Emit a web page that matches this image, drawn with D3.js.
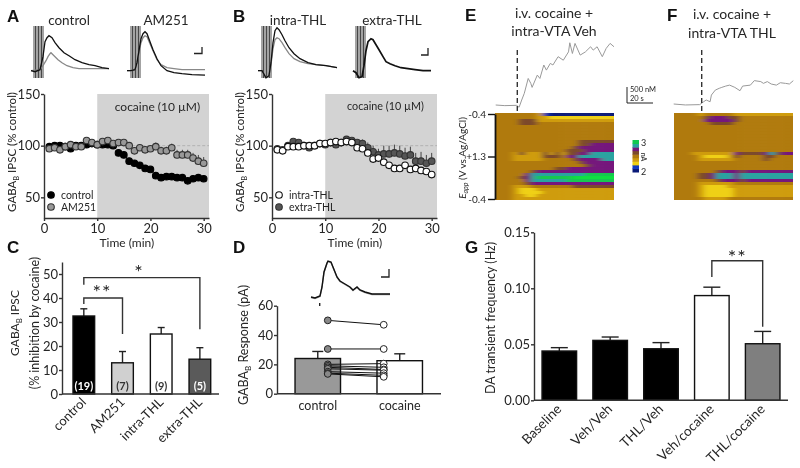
<!DOCTYPE html>
<html>

<head>
    <title>figure</title>
    <script src="https://d3js.org/d3.v7.min.js"></script>
    <style>
        body { margin: 0; background: #fff; }
        svg { filter: blur(0.3px); }
        text { font-family: Lato, "Open Sans", sans-serif; fill: #262626; }
        .letter { font-family: "Liberation Sans", sans-serif; font-weight: bold; font-size: 17px; fill: #111; }
        .axis path, .axis line { stroke: #333; stroke-width: 1.4px; }
    </style>
</head>

<body>
    <div id="chart"></div>
    <script>
        // time course panels A and B (minutes, % control)
        const minutes = d3.range(1, 31);
        const timeTicks = [0, 10, 20, 30];
        const pctTicks = [50, 100, 150];
        const controlVals = [99, 100, 100, 99, 97, 100, 100, 101, 102, 101, 101, 101, 100, 93, 91, 85, 83, 81, 78, 77, 71, 69, 70, 70, 69, 69, 66, 68, 69, 68];
        const controlErr = [2, 2, 2, 2, 2, 2, 2, 2, 2, 2, 2, 2, 2, 2, 2, 2, 2, 2, 2, 2, 2, 2, 2, 2, 2, 2, 2, 2, 2, 2];
        const am251Vals = [97, 98, 96, 99, 101, 99, 99, 105, 103, 101, 104, 105, 102, 103, 103, 100, 95, 98, 96, 97, 99, 95, 95, 98, 91, 91, 91, 88, 85, 83];
        const am251Err = [2, 2, 2, 2, 2, 2, 2, 2, 2, 2, 2, 2, 2, 2, 2, 3, 3, 3, 3, 3, 4, 4, 4, 4, 5, 5, 5, 5, 6, 6];
        const intraVals = [96, 95, 99, 99, 99, 100, 100, 100, 102, 102, 103, 104, 103, 104, 103, 98, 97, 93, 87, 88, 84, 81, 78, 78, 81, 77, 78, 76, 75, 72];
        const intraErr = [2, 2, 2, 2, 2, 2, 2, 2, 2, 2, 2, 2, 2, 2, 2, 2, 2, 3, 3, 3, 3, 3, 3, 3, 3, 3, 3, 3, 3, 3];
        const extraVals = [97, 96, 100, 104, 103, 100, 98, 100, 102, 101, 103, 101, 103, 106, 105, 103, 102, 98, 94, 91, 92, 92, 93, 92, 90, 91, 85, 85, 83, 85];
        const extraErr = [2, 2, 2, 2, 2, 2, 2, 2, 2, 2, 2, 2, 2, 2, 2, 3, 4, 5, 6, 6, 8, 8, 8, 8, 8, 8, 8, 9, 8, 8];

        // panel C
        const inhibCats = ["control", "AM251", "intra-THL", "extra-THL"];
        const inhibVals = [32.5, 13, 25, 14.5];
        const inhibErr = [3, 4.7, 2.7, 4.8];
        const inhibN = ["(19)", "(7)", "(9)", "(5)"];
        const inhibTicks = [0, 10, 20, 30, 40, 50];

        // panel D
        const respCats = ["control", "cocaine"];
        const respVals = [24, 22.5];
        const respErr = [4.8, 4.7];
        const respTicks = [0, 20, 40, 60];
        const pairsControl = [50, 30.5, 20, 19, 18, 17, 15, 14, 13.5];
        const pairsCocaine = [47, 30.5, 20.5, 18, 16.5, 16, 14, 12.5, 11.5];

        // panel G
        const freqCats = ["Baseline", "Veh/Veh", "THL/Veh", "Veh/cocaine", "THL/cocaine"];
        const freqVals = [0.044, 0.0535, 0.046, 0.0935, 0.0505];
        const freqErr = [0.003, 0.003, 0.0055, 0.0075, 0.011];
        const freqTicks = [0, 0.05, 0.1, 0.15];

        // evoked traces, time in arbitrary units, amplitude above baseline
        const stimTimes = [0, 1.5, 3, 4.5, 6, 7.5, 9];
        const aCtrlT = [0, 4, 9, 12, 14, 16, 18, 21, 24, 28, 33, 38, 44, 51, 58, 64, 71, 78];
        const aCtrlV = [0, -1, 1, 14, 29, 33, 35, 33, 28, 23, 18, 15, 11, 8, 6, 5, 3, 2];
        const aCtrlDrugT = [0, 9, 12, 15, 17, 19, 20, 23, 27, 31, 36, 42, 48, 55, 62, 70, 78];
        const aCtrlDrugV = [0, 1, 5, 10, 14, 17, 18, 15, 11, 8, 5, 3, 2, 2, 2, 2, 2];
        const amT = [0, 4, 8, 10, 12, 14, 16, 18, 20, 23, 26, 30, 34, 40, 47, 55, 65, 78];
        const amBase = [0, 0, 1, 8, 20, 32, 37, 39, 37, 29, 21, 12, 5, 0, -2, -3, -4, -4.5];
        const amDrug = [0, 0, 1, 8, 18, 28, 33, 35, 34, 27, 20, 11, 6, 3, 2, 1, 1, 1];
        const intraT = [0, 4, 8, 11, 13, 15, 17, 19, 21, 24, 27, 31, 36, 42, 50, 58, 68, 79];
        const intraBase = [0, 0, -7, -5, 8, 28, 40, 43, 41, 36, 30, 23, 17, 12, 8, 6, 5, 3];
        const intraDrug = [0, 0, -7, -5, 6, 22, 31, 33, 32, 28, 23, 17, 12, 9, 7, 6, 5, 3];
        const extraT = [0, 3, 6, 9, 11, 13, 15, 18, 20, 23, 26, 30, 33, 37, 42, 48, 55, 62, 70, 78];
        const extraBase = [0, -2, -7, -6, 5, 20, 29, 32, 31, 26, 21, 14, 9, 7, 5, 3, 2, 1, 0, 0];
        const respT = [0, 4, 9, 11, 13, 16, 17, 20, 22, 26, 29, 34, 39, 42, 46, 49, 54, 61, 67, 74, 79];
        const respV = [0, -1, 1, 10, 25, 34, 36, 35, 30, 20, 16, 13, 10, 7, 10, 7, 5, 3, 3, 3, 3];

        // dopamine traces, seconds and nM
        const daVehT = [0, 7, 16, 18, 20, 22, 25, 27, 28, 32, 34, 37, 39, 42, 44, 48, 52, 56, 57, 59, 61, 65, 69, 73, 75, 78, 82, 85, 88, 91];
        const daVehC = [0, -20, -10, -70, 155, 365, 830, 675, 550, 935, 830, 1250, 1090, 1300, 1250, 1510, 1400, 1660, 1945, 1610, 1925, 1560, 1660, 1820, 1715, 1820, 1510, 1770, 1925, 1820];
        const daThlT = [0, 9, 20, 23, 25, 28, 29, 32, 35, 37, 40, 43, 47, 51, 53, 59, 62, 67, 69, 72, 75, 79, 82, 86, 89, 92];
        const daThlC = [0, -30, -20, 70, 125, 70, 280, 435, 490, 520, 560, 590, 520, 415, 560, 590, 730, 700, 645, 700, 625, 590, 665, 645, 625, 730];

        // colour plots: rows top to bottom, columns left to right, one digit per cell (colour level)
        const heatVeh = [
            "44444443100000000000",
            "44444443322222222222",
            "44445553333333333333",
            "44445554444444444444",
            "44444444444444444444",
            "44444444444444444444",
            "44444444444444444444",
            "44444444444444444444",
            "44444444444444444444",
            "44444444444444555555",
            "44444444444444556666",
            "44444444444445666666",
            "44444444444455566666",
            "44435333535355667777",
            "44433333555466777777",
            "44433333444445666677",
            "44444444444444566666",
            "44444444444444456666",
            "44444444445566666666",
            "44444456666666666666",
            "44444677777777788888",
            "44445678888889999999",
            "44444677777788888888",
            "44444566666666666666",
            "44433344444445555555",
            "44432223333333333333",
            "44432222333333333333",
            "44433223333333333333",
            "44433333333333333333"
        ];
        const heatThl = [
            "44443444443333333333",
            "44444566655444444444",
            "44444666665444444444",
            "44444455554444444444",
            "44444444444444444444",
            "44444444444444444444",
            "44444444444444444444",
            "44444444444444444444",
            "44444444444444444444",
            "44444444444444444444",
            "44444444444444444444",
            "44444444444444444444",
            "44444444444444444444",
            "44433333336555567566",
            "44443222235444455444",
            "44443333334444454444",
            "44444444444444444444",
            "44444444444444444444",
            "44444444444444444444",
            "44444445666566666666",
            "44445567776777777777",
            "44445567776777777777",
            "44444445666566666666",
            "44443333334444444444",
            "44443222233333333333",
            "44443222223333333333",
            "44443222223333333333",
            "44443222223333333333",
            "44444333344444444444"
        ];
        const heatLevels = [0, 1, 2, 3, 4, 5, 6, 7, 8, 9];
        const heatColors = ["#0a1a78", "#1038c0", "#efd012", "#cf9c10", "#b07a10", "#7c4a2c", "#74187c", "#2ba3a0", "#12c850", "#08e040"];
        const barLevels = [0, 1, 2, 3, 4, 5, 6, 7, 8];

        const svg = d3.select("#chart").append("svg").attr("width", 800).attr("height", 468);
        const tickFont = 13;

        function label(x, y, str, size, anchor) {
            return svg.append("text").attr("x", x).attr("y", y).attr("font-size", size)
                .attr("text-anchor", anchor || "middle").text(str);
        }

        // rotated label with a subscript B
        function gabaLabel(x, y, rest, size) {
            const t = svg.append("text").attr("transform", `translate(${x},${y}) rotate(-90)`)
                .attr("text-anchor", "middle").attr("font-size", size);
            t.append("tspan").text("GABA");
            t.append("tspan").attr("font-size", size * 0.65).attr("dy", 3).text("B");
            t.append("tspan").attr("dy", -3).text(rest);
        }

        function letter(x, y, str) {
            svg.append("text").attr("class", "letter").attr("x", x).attr("y", y).text(str);
        }

        function scaleMark(x, y, w, h) {
            svg.append("path").attr("fill", "none").attr("stroke", "#222").attr("stroke-width", 1.3)
                .attr("d", d3.line()([[x, y + h], [x + w, y + h], [x + w, y]]));
        }

        function drawTimecourse(x0, legend, series, cocaineY, cocaineSize) {
            const x = d3.scaleLinear().domain([0, 31]).range([x0, x0 + 165]);
            const y = d3.scaleLinear().domain([30, 150]).range([218, 94]);
            svg.append("rect").attr("x", x(10)).attr("y", y(150)).attr("width", x(31) - x(10))
                .attr("height", y(30) - y(150)).attr("fill", "#d3d3d3");
            svg.append("line").attr("x1", x(10)).attr("x2", x(31)).attr("y1", y(100)).attr("y2", y(100))
                .attr("stroke", "#aaa").attr("stroke-dasharray", "3,2").attr("stroke-width", 0.8);
            svg.append("g").attr("class", "axis").attr("transform", `translate(0,${y(30)})`)
                .call(d3.axisBottom(x).tickValues(timeTicks).tickSize(3).tickPadding(3).tickSizeOuter(0))
                .call(g => g.selectAll("text").attr("font-size", tickFont));
            svg.append("g").attr("class", "axis").attr("transform", `translate(${x0},0)`)
                .call(d3.axisLeft(y).tickValues(pctTicks).tickSize(3).tickPadding(1).tickSizeOuter(0))
                .call(g => g.selectAll("text").attr("font-size", tickFont));
            series.forEach(s => {
                const g = svg.append("g");
                g.selectAll("line").data(minutes).join("line")
                    .attr("x1", d => x(d)).attr("x2", d => x(d))
                    .attr("y1", (d, i) => y(s.vals[i])).attr("y2", (d, i) => y(s.vals[i] + s.err[i]))
                    .attr("stroke", "#333").attr("stroke-width", 0.9);
                g.selectAll("circle").data(minutes).join("circle")
                    .attr("cx", d => x(d)).attr("cy", (d, i) => y(s.vals[i])).attr("r", 3.3)
                    .attr("fill", s.fill).attr("stroke", s.stroke).attr("stroke-width", 1.1);
            });
            label(x(20) + 7, cocaineY, "cocaine (10 µM)", cocaineSize);
            legend.forEach((s, i) => {
                svg.append("circle").attr("cx", x0 + 7).attr("cy", 195 + i * 12).attr("r", 3.3)
                    .attr("fill", s.fill).attr("stroke", s.stroke).attr("stroke-width", 1.1);
                label(x0 + 17, 199 + i * 12, s.name, 10.5, "start");
            });
            label(x(15) + 3, 247, "Time (min)", 12);
        }

        const seriesA = [
            { name: "control", vals: controlVals, err: controlErr, fill: "#000", stroke: "#000" },
            { name: "AM251", vals: am251Vals, err: am251Err, fill: "#999", stroke: "#333" }
        ];
        const seriesB = [
            { name: "extra-THL", vals: extraVals, err: extraErr, fill: "#555", stroke: "#333" },
            { name: "intra-THL", vals: intraVals, err: intraErr, fill: "#fff", stroke: "#111" }
        ];
        drawTimecourse(44, seriesA, seriesA, 111, 12);
        drawTimecourse(272, [seriesB[1], seriesB[0]], seriesB, 110, 10.8);
        gabaLabel(16, 152, " IPSC (% control)", 11.5);
        gabaLabel(244, 152, " IPSC (% control)", 11.5);

        function drawEvoked(x0, y0, stimX, traces) {
            const x = d3.scaleLinear().domain([0, 80]).range([x0, x0 + 80]);
            const y = d3.scaleLinear().domain([-10, 50]).range([y0 + 10, y0 - 50]);
            const sx = d3.scaleLinear().domain([0, 80]).range([stimX, stimX + 80]);
            svg.append("g").selectAll("line").data(stimTimes).join("line")
                .attr("x1", d => sx(d)).attr("x2", d => sx(d)).attr("y1", 26).attr("y2", 78)
                .attr("stroke", "#333").attr("stroke-width", 0.9);
            traces.forEach(tr => {
                svg.append("path").datum(tr.t).attr("fill", "none").attr("stroke", tr.color)
                    .attr("stroke-width", tr.w || 1.3)
                    .attr("d", d3.line().x(d => x(d)).y((d, i) => y(tr.v[i])));
            });
        }
        drawEvoked(31, 70.7, 34, [
            { t: aCtrlDrugT, v: aCtrlDrugV, color: "#888" },
            { t: aCtrlT, v: aCtrlV, color: "#111" }
        ]);
        drawEvoked(127, 70.7, 131, [
            { t: amT, v: amDrug, color: "#888" },
            { t: amT, v: amBase, color: "#111" }
        ]);
        drawEvoked(258, 70.7, 262, [
            { t: intraT, v: intraDrug, color: "#888" },
            { t: intraT, v: intraBase, color: "#111" }
        ]);
        drawEvoked(353, 70.7, 356, [
            { t: extraT, v: extraBase, color: "#111", w: 1.7 }
        ]);
        label(69, 25, "control", 13.5);
        label(166, 25, "AM251", 13.5);
        label(298, 25, "intra-THL", 13.5);
        label(392, 25, "extra-THL", 13.5);
        scaleMark(194, 47, 8, 6.5);
        scaleMark(421, 48, 7, 7);

        // panel C
        const xC = d3.scaleBand().domain(inhibCats).range([62, 221.7]).paddingInner(0.44).paddingOuter(0.284);
        const yC = d3.scaleLinear().domain([0, 55]).range([394, 262]);
        function drawBars(x, y, cats, vals, err, fills, capW) {
            cats.forEach((c, i) => {
                const cx = x(c) + x.bandwidth() / 2;
                svg.append("line").attr("x1", cx).attr("x2", cx).attr("y1", y(vals[i])).attr("y2", y(vals[i] + err[i]))
                    .attr("stroke", "#222").attr("stroke-width", 1.4);
                svg.append("line").attr("x1", cx - capW).attr("x2", cx + capW)
                    .attr("y1", y(vals[i] + err[i])).attr("y2", y(vals[i] + err[i]))
                    .attr("stroke", "#222").attr("stroke-width", 1.4);
                svg.append("rect").attr("x", x(c)).attr("width", x.bandwidth())
                    .attr("y", y(vals[i])).attr("height", y(0) - y(vals[i]))
                    .attr("fill", fills[i]).attr("stroke", "#111").attr("stroke-width", 1.4);
            });
        }
        function bracket(xs, ys) {
            svg.append("path").attr("fill", "none").attr("stroke", "#333").attr("stroke-width", 1.4)
                .attr("d", d3.line()(xs.map((d, i) => [d, ys[i]])));
        }
        function stars(x, y, str) {
            label(x, y, str, 20).style("letter-spacing", "1px");
        }
        function centerOf(x, c) { return x(c) + x.bandwidth() / 2; }
        function yAxis(x0, y, ticks, fmt) {
            svg.append("g").attr("class", "axis").attr("transform", `translate(${x0},0)`)
                .call(d3.axisLeft(y).tickValues(ticks).tickFormat(fmt).tickSize(3).tickPadding(1).tickSizeOuter(0))
                .call(g => g.selectAll("text").attr("font-size", tickFont));
        }
        function xBaseline(x1, x2, y0) {
            svg.append("line").attr("x1", x1).attr("x2", x2).attr("y1", y0).attr("y2", y0)
                .attr("stroke", "#333").attr("stroke-width", 1.4);
        }

        drawBars(xC, yC, inhibCats, inhibVals, inhibErr, ["#000", "#d0d0d0", "#fff", "#5a5a5a"], 3.5);
        yAxis(62, yC, inhibTicks, d3.format("d"));
        xBaseline(62, 219, yC(0));
        inhibCats.forEach((c, i) => {
            svg.append("text").attr("transform", `translate(${centerOf(xC, c) + 3},${403}) rotate(-45)`)
                .attr("text-anchor", "end").attr("font-size", 13).text(c);
            label(centerOf(xC, c), 390, inhibN[i], 11).attr("font-weight", "bold")
                .style("fill", i === 0 || i === 3 ? "#fff" : "#333");
        });
        const cx0 = centerOf(xC, "control");
        bracket([cx0, cx0, centerOf(xC, "extra-THL"), centerOf(xC, "extra-THL")],
            [yC(45.5), yC(48.5), yC(48.5), yC(27)]);
        bracket([cx0, cx0, centerOf(xC, "AM251"), centerOf(xC, "AM251")],
            [yC(37.5), yC(40), yC(40), yC(25)]);
        stars(139, 279, "*");
        stars(102, 299, "**");
        gabaLabel(19, 323, " IPSC", 12);
        svg.append("text").attr("transform", "translate(39,323) rotate(-90)").attr("text-anchor", "middle")
            .attr("font-size", 12.5).text("(% inhibition by cocaine)");

        // panel D
        const xD = d3.scaleBand().domain(respCats).range([277, 440.5]).paddingInner(0.445).paddingOuter(0.22);
        const yD = d3.scaleLinear().domain([0, 60]).range([393.7, 305.7]);
        drawBars(xD, yD, respCats, respVals, respErr, ["#999", "#fff"], 5.5);
        yAxis(277, yD, respTicks, d3.format("d"));
        xBaseline(277, 441, yD(0));
        respCats.forEach(c => label(centerOf(xD, c), 410, c, 12.5));
        const pairG = svg.append("g");
        pairsControl.forEach((v, i) => {
            pairG.append("line").attr("x1", centerOf(xD, "control") + 10).attr("x2", centerOf(xD, "cocaine") - 16)
                .attr("y1", yD(v)).attr("y2", yD(pairsCocaine[i])).attr("stroke", "#111").attr("stroke-width", 1);
        });
        pairsControl.forEach((v, i) => {
            pairG.append("circle").attr("cx", centerOf(xD, "control") + 10).attr("cy", yD(v)).attr("r", 3.4)
                .attr("fill", "#888").attr("stroke", "#222").attr("stroke-width", 1);
            pairG.append("circle").attr("cx", centerOf(xD, "cocaine") - 16).attr("cy", yD(pairsCocaine[i])).attr("r", 3.4)
                .attr("fill", "#fff").attr("stroke", "#222").attr("stroke-width", 1);
        });
        gabaLabel(248, 345, " Response (pA)", 12.5);
        const xR = d3.scaleLinear().domain([0, 80]).range([311, 391]);
        const yR = d3.scaleLinear().domain([0, 40]).range([297, 257]);
        svg.append("path").datum(respT).attr("fill", "none").attr("stroke", "#999").attr("stroke-width", 1.4)
            .attr("d", d3.line().x(d => xR(d)).y((d, i) => yR(respV[i] - 0.5)));
        svg.append("path").datum(respT).attr("fill", "none").attr("stroke", "#111").attr("stroke-width", 1.4)
            .attr("d", d3.line().x(d => xR(d)).y((d, i) => yR(respV[i])));
        svg.append("rect").attr("x", xR(8)).attr("y", yR(-6)).attr("width", 1.4).attr("height", 3).attr("fill", "#222");
        scaleMark(381, 269, 8, 8);

        // panel G
        const xG = d3.scaleBand().domain(freqCats).range([534, 788]).paddingInner(0.32).paddingOuter(0.158);
        const yG = d3.scaleLinear().domain([0, 0.15]).range([400.3, 232.3]);
        drawBars(xG, yG, freqCats, freqVals, freqErr, ["#000", "#000", "#000", "#fff", "#7f7f7f"], 8.5);
        yAxis(534, yG, freqTicks, d3.format(".2f"));
        xBaseline(534, 788, yG(0));
        freqCats.forEach(c => {
            svg.append("text").attr("transform", `translate(${centerOf(xG, c) + 3},${410}) rotate(-45)`)
                .attr("text-anchor", "end").attr("font-size", 13.5).text(c);
        });
        const gl = centerOf(xG, "Veh/cocaine"), gr = centerOf(xG, "THL/cocaine");
        bracket([gl, gl, gr, gr], [yG(0.11), yG(0.1246), yG(0.1246), yG(0.0657)]);
        stars((gl + gr) / 2, 264, "**");
        svg.append("text").attr("transform", "translate(495,318) rotate(-90)").attr("text-anchor", "middle")
            .attr("font-size", 12.5).text("DA transient frequency (Hz)");

        // panels E and F
        const defs = svg.append("defs");
        defs.append("filter").attr("id", "soft").attr("x", "-5%").attr("y", "-5%").attr("width", "110%").attr("height", "110%")
            .append("feGaussianBlur").attr("stdDeviation", "3 0.7");
        const heatColor = d3.scaleOrdinal().domain(heatLevels).range(heatColors);

        function drawHeat(id, x1, x2, rows) {
            const cols = d3.range(rows[0].length);
            const x = d3.scaleBand().domain(cols).range([x1, x2]);
            const y = d3.scaleBand().domain(d3.range(rows.length)).range([113, 200]);
            defs.append("clipPath").attr("id", id).append("rect").attr("x", x1).attr("y", 113)
                .attr("width", x2 - x1).attr("height", 87);
            const g = svg.append("g").attr("clip-path", `url(#${id})`).append("g").attr("filter", "url(#soft)");
            rows.forEach((row, r) => {
                cols.forEach(c => {
                    // last column and row run past the clip so the blur does not fade at the edge
                    const w = c === cols.length - 1 ? x.bandwidth() + 12 : x.bandwidth() + 0.5;
                    const h = r === rows.length - 1 ? y.bandwidth() + 6 : y.bandwidth() + 0.5;
                    g.append("rect").attr("x", c === 0 ? x(c) - 12 : x(c)).attr("y", r === 0 ? y(r) - 6 : y(r))
                        .attr("width", c === 0 ? w + 12 : w).attr("height", r === 0 ? h + 6 : h)
                        .attr("fill", heatColor(+row[c]));
                });
            });
        }
        drawHeat("clipE", 495, 614, heatVeh);
        drawHeat("clipF", 674, 793, heatThl);

        function drawDa(x0, y0, t, c, dashX) {
            const x = d3.scaleLinear().domain([0, 100]).range([x0, x0 + 130]);
            const y = d3.scaleLinear().domain([0, 2000]).range([y0, y0 - 64]);
            svg.append("path").datum(t).attr("fill", "none").attr("stroke", "#999").attr("stroke-width", 1)
                .attr("d", d3.line().x(d => x(d)).y((d, i) => y(c[i])));
            svg.append("line").attr("x1", dashX).attr("x2", dashX).attr("y1", 50).attr("y2", 114)
                .attr("stroke", "#333").attr("stroke-width", 1.4).attr("stroke-dasharray", "5,3");
        }
        drawDa(495.7, 105, daVehT, daVehC, 517.3);
        drawDa(673.7, 104, daThlT, daThlC, 701.7);

        label(554, 18, "i.v. cocaine +", 14);
        label(554, 36, "intra-VTA Veh", 14);
        label(732, 19, "i.v. cocaine +", 14);
        label(732, 38, "intra-VTA THL", 14);

        // scale bar for the DA traces
        svg.append("path").attr("fill", "none").attr("stroke", "#222").attr("stroke-width", 1)
            .attr("d", d3.line()([[627, 87], [627, 103], [653, 103]]));
        label(630, 92, "500 nM", 7.5, "start");
        label(630, 101, "20 s", 7.5, "start");

        // potential axis
        const potY = d3.scalePoint().domain(["-0.4", "+1.3", "-0.4 "]).range([114, 199]);
        svg.append("g").attr("class", "axis").attr("transform", "translate(495,0)")
            .call(d3.axisLeft(potY).tickSize(7).tickPadding(2).tickSizeOuter(0))
            .call(g => g.select("path").style("stroke-width", "1.8px").style("stroke", "#111"))
            .call(g => g.selectAll("line").style("stroke", "#111"))
            .call(g => g.selectAll("text").attr("font-size", 10));
        const eLab = svg.append("text").attr("transform", "translate(466,158) rotate(-90)")
            .attr("text-anchor", "middle").attr("font-size", 10);
        eLab.append("tspan").attr("font-style", "italic").text("E");
        eLab.append("tspan").attr("font-style", "italic").attr("font-size", 7).attr("dy", 2).text("app");
        eLab.append("tspan").attr("dy", -2).text(" (V vs.Ag/AgCl)");

        // colour bar
        const cbY = d3.scaleBand().domain(barLevels).range([172, 140]);
        svg.append("g").selectAll("rect").data(barLevels).join("rect")
            .attr("x", 632.5).attr("width", 6.5).attr("y", d => cbY(d)).attr("height", cbY.bandwidth() + 0.5)
            .attr("fill", d => heatColor(d));
        label(641, 145.5, "3", 9, "start");
        label(641, 175, "2", 9, "start");
        svg.append("text").attr("transform", "translate(641,157) rotate(90)").attr("text-anchor", "middle")
            .attr("font-size", 7).text("nA");

        letter(7, 22, "A");
        letter(233, 22, "B");
        letter(7, 253, "C");
        letter(233, 253, "D");
        letter(465, 21, "E");
        letter(667, 21, "F");
        letter(465, 253, "G");
    </script>
</body>

</html>
